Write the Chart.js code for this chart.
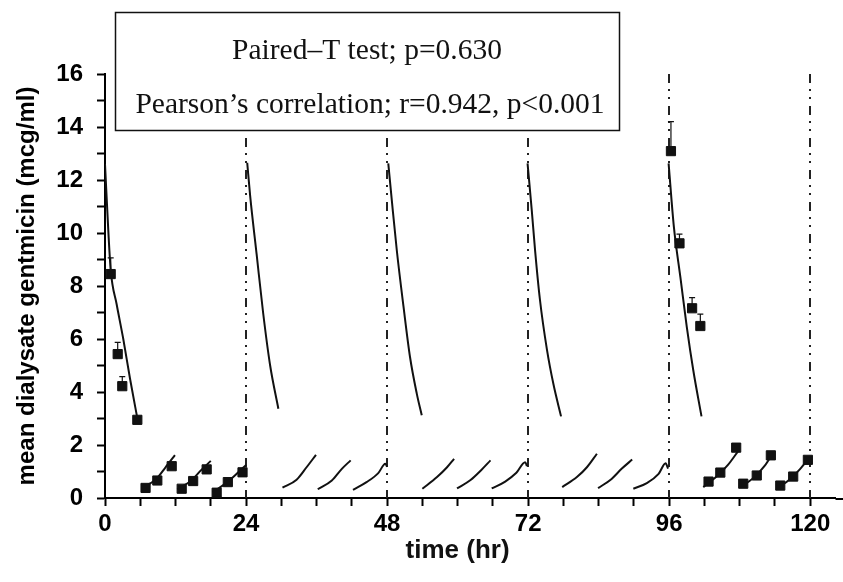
<!DOCTYPE html>
<html>
<head>
<meta charset="utf-8">
<script src="https://cdn.jsdelivr.net/npm/chart.js@4.4.0/dist/chart.umd.min.js"></script>
<style>
  html, body { margin: 0; padding: 0; background: #fff; }
</style>
</head>
<body>
<canvas id="chart" width="843" height="582"></canvas>
<script>
// times of the dialysate exchanges drawn as dash-dot lines
const doseTimes = [24, 48, 72, 96, 120];

// predicted dialysate concentration, one array pair per day (null = break)
const day1T = [0, 0.56, 0.97, 1.99, 3.11, 4.26, 5.57, null, 6.2, 8.6, 10.3, 11.9, null, 12.3, 14.6, 16.4, 18.0, null, 18.3, 20.6, 22.5, 24.0];
const day1C = [12.6, 10.1, 8.6, 7.3, 6.0, 4.5, 2.93, null, 0.38, 0.69, 1.16, 1.62, null, 0.33, 0.64, 1.06, 1.4, null, 0.22, 0.56, 0.93, 1.25];
const day2T = [24.2, 24.7, 25.8, 26.9, 28.1, 29.5, null, 30.2, 32.6, 34.3, 35.9, null, 36.2, 38.6, 40.3, 41.8, null, 42.2, 44.5, 46.5, 47.7, 48.0];
const day2C = [12.65, 11.4, 9.2, 7.0, 5.0, 3.37, null, 0.39, 0.69, 1.16, 1.63, null, 0.33, 0.66, 1.1, 1.42, null, 0.31, 0.6, 0.94, 1.29, 1.18];
const day3T = [48.2, 48.8, 49.65, 50.8, 51.9, 53.05, 53.9, null, 54.0, 56.5, 58.2, 59.4, null, 59.9, 62.2, 64.0, 65.6, null, 65.8, 68.1, 70.0, 71.5, 71.8];
const day3C = [12.63, 11.24, 9.35, 7.21, 5.32, 3.94, 3.12, null, 0.35, 0.79, 1.16, 1.48, null, 0.36, 0.68, 1.05, 1.42, null, 0.36, 0.62, 0.95, 1.35, 1.2];
const day4T = [71.9, 72.6, 73.2, 74.0, 75.2, 76.3, 77.6, null, 77.8, 80.3, 82.0, 83.7, null, 83.9, 86.2, 87.9, 89.7, null, 89.9, 92.2, 94.2, 95.4, 95.8];
const day4C = [12.63, 10.9, 9.3, 7.5, 5.6, 4.3, 3.08, null, 0.41, 0.79, 1.16, 1.67, null, 0.37, 0.72, 1.1, 1.45, null, 0.35, 0.56, 0.91, 1.31, 1.11];
const day5T = [95.9, 96.8, 97.9, 99.0, 100.1, 101.5, null, 101.8, 104.0, 106.0, 107.8, null, 108.1, 110.3, 112.2, 113.8, null, 114.3, 116.5, 118.3, 120.0];
const day5C = [12.63, 10.23, 8.34, 6.45, 4.82, 3.08, null, 0.41, 0.8, 1.25, 1.79, null, 0.41, 0.75, 1.2, 1.75, null, 0.35, 0.7, 1.1, 1.57];

// measured mean dialysate gentamicin and the top of its error bar
const obsT = [0.97, 2.16, 2.94, 5.5, 6.9, 8.9, 11.35, 13.05, 15.0, 17.3, 19.0, 20.9, 23.4,
              96.3, 97.75, 99.9, 101.3, 102.7, 104.7, 107.4, 108.6, 110.9, 113.3, 114.9, 117.1, 119.6];
const obsC = [8.45, 5.43, 4.22, 2.95, 0.38, 0.66, 1.2, 0.35, 0.64, 1.08, 0.2, 0.6, 0.97,
              13.09, 9.61, 7.16, 6.49, 0.62, 0.96, 1.9, 0.54, 0.85, 1.61, 0.47, 0.81, 1.44];
const obsHi = [9.06, 5.87, 4.58, null, null, null, null, null, null, null, null, null, null,
               14.2, 9.96, 7.56, 6.94, null, null, null, null, null, null, null, null, null];

const statLines = ["Paired\u2013T test; p=0.630", "Pearson\u2019s correlation; r=0.942, p<0.001"];

const modelData = [];
[[day1T, day1C], [day2T, day2C], [day3T, day3C], [day4T, day4C], [day5T, day5C]].forEach(([ts, cs]) => {
  ts.forEach((t, i) => modelData.push(t === null ? { x: modelData[modelData.length - 1].x, y: null } : { x: t, y: cs[i] }));
  modelData.push({ x: ts[ts.length - 1], y: null });
});
const obsData = obsT.map((t, i) => ({ x: t, y: obsC[i] }));

const tickFont = { family: "'Liberation Sans', Arial, sans-serif", weight: "bold", size: 24 };
const titleFont = { family: "'Liberation Sans', Arial, sans-serif", weight: "bold", size: 24 };

// dash-dot lines at each exchange
const doseLines = {
  id: "doseLines",
  beforeDatasetsDraw(chart) {
    const { ctx, chartArea, scales: { x } } = chart;
    ctx.save();
    ctx.strokeStyle = "#222";
    ctx.lineWidth = 2;
    ctx.setLineDash([9, 6, 2, 6, 2, 7]);
    doseTimes.forEach((t) => {
      const px = Math.round(x.getPixelForValue(t));
      ctx.beginPath();
      ctx.moveTo(px, chartArea.top);
      ctx.lineTo(px, chartArea.bottom);
      ctx.stroke();
    });
    ctx.restore();
  }
};

// upper error bars only
const errorBars = {
  id: "errorBars",
  afterDatasetsDraw(chart) {
    const { ctx, scales: { x, y } } = chart;
    ctx.save();
    ctx.strokeStyle = "#111";
    ctx.lineWidth = 1.2;
    obsT.forEach((t, i) => {
      if (obsHi[i] == null) return;
      const px = x.getPixelForValue(t);
      const top = y.getPixelForValue(obsHi[i]);
      const base = y.getPixelForValue(obsC[i]) - 4;
      ctx.beginPath();
      ctx.moveTo(px, base);
      ctx.lineTo(px, top);
      ctx.moveTo(px - 3, top);
      ctx.lineTo(px + 3, top);
      ctx.stroke();
    });
    ctx.restore();
  }
};

// stats box, x axis title, axis line running to the edge
const extras = {
  id: "extras",
  afterDraw(chart) {
    const { ctx, chartArea, scales: { x } } = chart;
    ctx.save();
    ctx.strokeStyle = "#000";
    ctx.lineWidth = 2;
    ctx.beginPath();
    ctx.moveTo(chartArea.right, chartArea.bottom + 1);
    ctx.lineTo(chart.width, chartArea.bottom + 1);
    ctx.stroke();

    ctx.fillStyle = "#fff";
    ctx.fillRect(115.5, 12.5, 504, 118);
    ctx.strokeStyle = "#111";
    ctx.lineWidth = 1.5;
    ctx.strokeRect(115.5, 12.5, 504, 118);
    ctx.fillStyle = "#111";
    ctx.textAlign = "center";
    ctx.textBaseline = "alphabetic";
    ctx.font = "29.5px 'Liberation Serif', 'Times New Roman', serif";
    ctx.fillText(statLines[0], 367, 59);
    ctx.fillText(statLines[1], 370, 113);

    ctx.font = "bold 26px 'Liberation Sans', Arial, sans-serif";
    ctx.textBaseline = "middle";
    ctx.fillText("time (hr)", x.getPixelForValue(60), 551);
    ctx.restore();
  }
};

new Chart(document.getElementById("chart"), {
  type: "scatter",
  data: {
    datasets: [
      {
        type: "line",
        data: modelData,
        borderColor: "#111",
        borderWidth: 2,
        pointRadius: 0,
        cubicInterpolationMode: "monotone",
        spanGaps: false,
        order: 2
      },
      {
        data: obsData,
        pointStyle: "rect",
        pointRadius: 6.5,
        backgroundColor: "#111",
        borderColor: "#111",
        borderWidth: 1,
        order: 1
      }
    ]
  },
  options: {
    responsive: false,
    animation: false,
    devicePixelRatio: 1,
    layout: { padding: { top: 74, right: 0, left: 0, bottom: 0 } },
    plugins: { legend: { display: false }, tooltip: { enabled: false } },
    scales: {
      x: {
        type: "linear",
        min: 0,
        max: 124.3,
        afterBuildTicks: (axis) => { axis.ticks = axis.ticks.filter((t) => t.value % 6 === 0); },
        afterFit: (scale) => { scale.height = 84; },
        ticks: {
          stepSize: 6,
          includeBounds: false,
          autoSkip: false,
          maxRotation: 0,
          padding: 4,
          color: "#000",
          font: tickFont,
          callback: (v) => (v % 24 === 0 ? v : "")
        },
        grid: { drawOnChartArea: false, drawTicks: true, tickLength: 8, tickWidth: 2, tickColor: "#000" },
        border: { display: true, color: "#000", width: 2 }
      },
      y: {
        min: 0,
        max: 16,
        afterFit: (scale) => { scale.width = 105; },
        ticks: {
          stepSize: 1,
          autoSkip: false,
          padding: 14,
          color: "#000",
          font: tickFont,
          callback: (v) => (v % 2 === 0 ? v : "")
        },
        title: {
          display: true,
          text: "mean dialysate gentmicin (mcg/ml)",
          color: "#000",
          font: titleFont,
          padding: { top: 13, bottom: 0 }
        },
        grid: { drawOnChartArea: false, drawTicks: true, tickLength: 8, tickWidth: 2, tickColor: "#000" },
        border: { display: true, color: "#000", width: 2 }
      }
    }
  },
  plugins: [doseLines, errorBars, extras]
});
</script>
</body>
</html>
